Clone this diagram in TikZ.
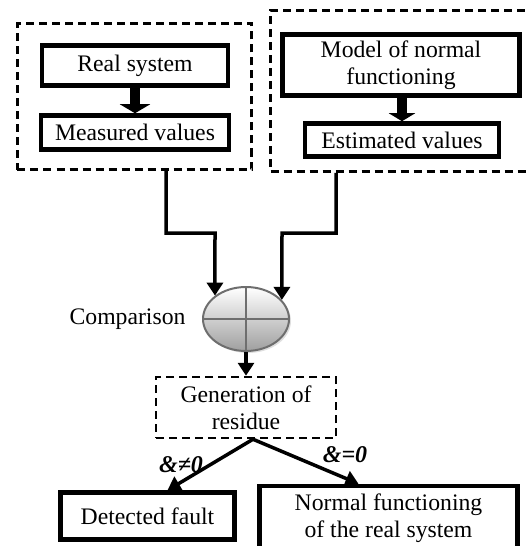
\documentclass[tikz,border=0pt]{standalone}
\usepackage{fontspec}
\setmainfont{Liberation Serif}
\usetikzlibrary{arrows.meta,shapes.geometric,shadows}
\definecolor{rimgray}{RGB}{110,110,110}
\begin{document}
\begin{tikzpicture}[x=1bp,y=-1bp,
  font=\fontsize{23.7bp}{27bp}\selectfont,
  solidbox/.style={draw,line width=4.5bp,inner sep=0pt,align=center},
  dashbox/.style={draw,line width=2.5bp,dash pattern=on 8bp off 5bp,inner sep=0pt,align=center},
  blockarrow/.style={line width=10bp,-{Triangle[width=30bp,length=9bp]}},
  conn/.style={line width=3.5bp,-{Triangle[width=16bp,length=13bp]}},
  tag/.style={font=\fontsize{24bp}{27bp}\selectfont\bfseries\itshape}
]
\useasboundingbox (0,0) rectangle (527,546);
\clip (0,0) rectangle (527,546);

% measured side
\node[dashbox,minimum width=234bp,minimum height=146bp] (left) at (134.5,96.5) {};
\node[solidbox,minimum width=186bp,minimum height=40bp] (rs) at (135,65.5) {Real system};
\node[solidbox,minimum width=188bp,minimum height=34bp] (mv) at (135,132.5) {Measured values};
\draw[blockarrow] (rs.south) -- (mv.north);

% model side
\node[dashbox,minimum width=261bp,minimum height=161bp] (right) at (401,91) {};
\node[solidbox,minimum width=237bp,minimum height=61bp] (model) at (401,65) {Model of normal\\functioning};
\node[solidbox,minimum width=194bp,minimum height=33bp] (ev) at (402,140) {Estimated values};
\draw[line width=10bp,-{Triangle[width=26bp,length=8bp]}] (ev.north |- model.south) -- (ev.north);

% comparator
\node[ellipse,minimum width=86bp,minimum height=64bp,inner sep=0pt,
      draw=rimgray,line width=2bp,top color=white,bottom color=gray!75,
      drop shadow={opacity=0.25,shadow xshift=2bp,shadow yshift=-2bp},
      path picture={\draw[rimgray,line width=2bp]
        (path picture bounding box.north) -- (path picture bounding box.south)
        (path picture bounding box.west) -- (path picture bounding box.east);}]
      (cmp) at (246,319) {};
\node[anchor=east] (cmplabel) at ([xshift=-13bp]cmp.west) {Comparison};

\coordinate (joinL) at (215,233);
\coordinate (joinR) at (282,233);
\draw[conn] ([xshift=31.5bp]left.south) |- (joinL) -- (cmp.143);
\draw[conn] ([xshift=-65bp]right.south) |- (joinR) -- (cmp.28);

% residue and decision
\node[dashbox,minimum width=180bp,minimum height=61bp] (gen) at (246,407.5) {Generation of\\residue};
\draw[conn] (cmp.south) -- (gen.north);

\node[solidbox,minimum width=174bp,minimum height=47bp] (fault) at (147.5,516) {Detected fault};
\node[solidbox,minimum width=258bp,minimum height=64bp] (normal) at (388.5,518) {Normal functioning\\of the real system};

\draw[conn] ([xshift=7bp]gen.south) -- ([xshift=20bp]fault.north);
\draw[conn] ([xshift=7bp]gen.south) -- ([xshift=-30bp]normal.north);

\node[tag] (neq) at (181,465) {\&≠0};
\node[tag] (eq) at (345,455) {\&=0};
\end{tikzpicture}
\end{document}
